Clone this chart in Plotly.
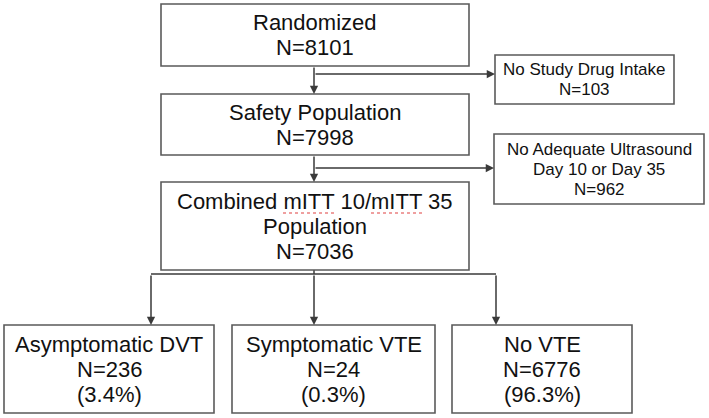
import plotly.graph_objects as go

# ---- data ----
main_labels = ["Randomized", "Safety Population", "Combined mITT 10/mITT 35\nPopulation"]
main_counts = [8101, 7998, 7036]
excl_labels = ["No Study Drug Intake", "No Adequate Ultrasound\nDay 10 or Day 35"]
excl_counts = [103, 962]
outcome_labels = ["Asymptomatic DVT", "Symptomatic VTE", "No VTE"]
outcome_counts = [236, 24, 6776]
outcome_pcts = [3.4, 0.3, 96.3]

# ---- layout geometry (pixels) ----
W, H = 709, 418
main_x = (161, 469)
main_y = [(4, 66), (94, 155), (182, 270)]
excl_box = [((495, 674), (55, 104)), ((494, 704), (134, 204))]
out_x = [(4, 214), (232, 435), (452, 632)]
out_y = (325, 413)
trunk = 314
out_arrow_x = [151, 314, 496]
branch_y = 274

MAIN_FS, SIDE_FS, OUT_FS = 22, 17, 22
MAIN_LH, SIDE_LH, OUT_LH = 25, 20, 25
FONT = "Liberation Sans, Arial, sans-serif"
LINE = "#3a3a3a"
BORDER = "#5a5a5a"

fig = go.Figure()
shapes, annos = [], []

def box(x0, x1, y0, y1):
    shapes.append(dict(type="rect", xref="x", yref="y", x0=x0, x1=x1, y0=y0, y1=y1,
                       line=dict(color=BORDER, width=1.6), fillcolor="white", layer="above"))

def text_lines(lines, cx, cy, fs, lh):
    n = len(lines)
    for i, t in enumerate(lines):
        y = cy + (i - (n - 1) / 2) * lh
        annos.append(dict(x=cx, y=y, xref="x", yref="y", text=t, showarrow=False,
                          font=dict(family=FONT, size=fs, color="#111111"),
                          xanchor="center", yanchor="middle"))

def seg(x0, y0, x1, y1):
    shapes.append(dict(type="line", xref="x", yref="y", x0=x0, y0=y0, x1=x1, y1=y1,
                       line=dict(color=LINE, width=1.5), layer="below"))

def arrow(x0, y0, x1, y1):
    annos.append(dict(x=x1, y=y1, ax=x0, ay=y0, xref="x", yref="y", axref="x", ayref="y",
                      text="", showarrow=True, arrowhead=2, arrowsize=1.1, arrowwidth=1.5,
                      arrowcolor=LINE, standoff=0, startstandoff=0))

# main boxes
for lab, n, (y0, y1) in zip(main_labels, main_counts, main_y):
    box(main_x[0], main_x[1], y0, y1)
    lines = lab.split("\n") + [f"N={n}"]
    text_lines(lines, (main_x[0] + main_x[1]) / 2, (y0 + y1) / 2, MAIN_FS, MAIN_LH)

# exclusion boxes
for lab, n, ((x0, x1), (y0, y1)) in zip(excl_labels, excl_counts, excl_box):
    box(x0, x1, y0, y1)
    lines = lab.split("\n") + [f"N={n}"]
    text_lines(lines, (x0 + x1) / 2, (y0 + y1) / 2, SIDE_FS, SIDE_LH)

# outcome boxes
for lab, n, p, (x0, x1) in zip(outcome_labels, outcome_counts, outcome_pcts, out_x):
    box(x0, x1, out_y[0], out_y[1])
    lines = [lab, f"N={n}", f"({p}%)"]
    text_lines(lines, (x0 + x1) / 2, (out_y[0] + out_y[1]) / 2, OUT_FS, OUT_LH)

# connectors
for i in range(2):
    ytop = main_y[i][1]
    ybot = main_y[i + 1][0]
    ex0 = excl_box[i][0][0]
    ymid = 74 if i == 0 else 168
    arrow(trunk, ytop, trunk, ybot)
    arrow(trunk, ymid, ex0, ymid)

seg(trunk, main_y[2][1], trunk, branch_y)
seg(out_arrow_x[0], branch_y, out_arrow_x[-1], branch_y)
for ax_ in out_arrow_x:
    arrow(ax_, branch_y, ax_, out_y[0])

# spell-check squiggles under "mITT"
for sx0, sx1 in [(283, 334), (371, 422)]:
    shapes.append(dict(type="line", xref="x", yref="y", x0=sx0, x1=sx1, y0=213, y1=213,
                       line=dict(color="#e04040", width=1.2, dash="dot"), layer="above"))

fig.update_layout(
    width=W, height=H, margin=dict(l=0, r=0, t=0, b=0),
    paper_bgcolor="white", plot_bgcolor="white",
    xaxis=dict(range=[0, W], visible=False, fixedrange=True),
    yaxis=dict(range=[H, 0], visible=False, fixedrange=True),
    shapes=shapes, annotations=annos, showlegend=False,
)
fig.write_html(
    "out.html",
    config={"displayModeBar": False},
    post_script="document.body.style.margin='0';document.body.style.overflow='hidden';",
)
